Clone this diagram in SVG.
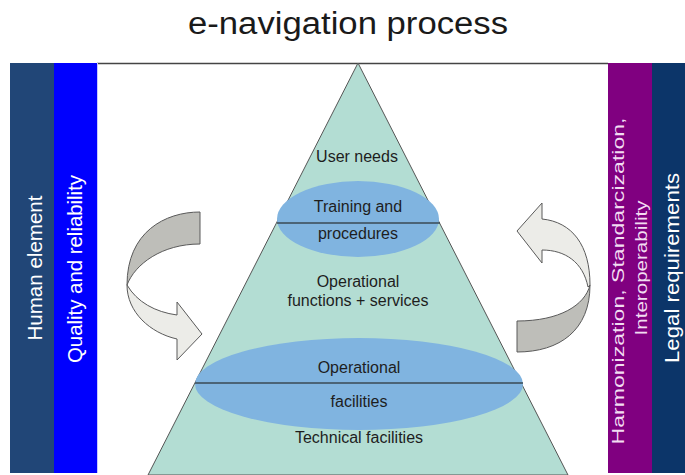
<svg xmlns="http://www.w3.org/2000/svg" width="685" height="475" viewBox="0 0 685 475">
  <style>
    .lbl { font-family: "Liberation Sans", Arial, sans-serif; font-size: 16px; fill: #1e1e1e; text-anchor: middle; }
    .vt { font-family: "Liberation Sans", Arial, sans-serif; font-size: 20px; fill: #ffffff; text-anchor: middle; }
    .vt2 { font-family: "Liberation Sans", Arial, sans-serif; font-size: 17px; fill: #f2dcf2; text-anchor: middle; }
    .ell { fill: #80b4e0; }
    .sep { stroke: #3a4a55; stroke-width: 1.5; }
    .dark { fill: #bebeb9; stroke: #5a5a5a; stroke-width: 1; }
    .light { fill: #ececE8; stroke: #5a5a5a; stroke-width: 1; }
  </style>
  <rect x="0" y="0" width="685" height="475" fill="#ffffff"/>

  <g id="title">
    <text x="348" y="34" font-family="'Liberation Sans', Arial, sans-serif" font-size="31" fill="#1a1a1a" text-anchor="middle" textLength="320" lengthAdjust="spacingAndGlyphs">e-navigation process</text>
  </g>

  <g id="frame">
    <line x1="97" y1="63.5" x2="608" y2="63.5" stroke="#444" stroke-width="1.5"/>
  </g>

  <g id="human-element">
    <rect x="10" y="63" width="44" height="410" fill="#214677"/>
    <text class="vt" transform="translate(42,268) rotate(-90)" textLength="145" lengthAdjust="spacingAndGlyphs">Human element</text>
  </g>
  <g id="quality-reliability">
    <rect x="54" y="63" width="43" height="410" fill="#0000fe"/>
    <line x1="97.5" y1="63" x2="97.5" y2="473" stroke="#c8c8ff" stroke-width="1"/>
    <text class="vt" transform="translate(82,269) rotate(-90)" textLength="188" lengthAdjust="spacingAndGlyphs">Quality and reliability</text>
  </g>
  <g id="harmonization">
    <rect x="608" y="63" width="44" height="410" fill="#800080"/>
    <text class="vt2" transform="translate(624,281) rotate(-90)" textLength="327" lengthAdjust="spacingAndGlyphs">Harmonization, Standarcization,</text>
    <text class="vt2" transform="translate(647,268) rotate(-90)" textLength="135" lengthAdjust="spacingAndGlyphs">Interoperability</text>
  </g>
  <g id="legal-requirements">
    <rect x="652" y="63" width="33" height="410" fill="#0c3569"/>
    <text class="vt" transform="translate(679,268) rotate(-90)" textLength="190" lengthAdjust="spacingAndGlyphs">Legal requirements</text>
  </g>

  <g id="pyramid">
    <polygon points="358,63 148,475 568,475" fill="#b3ddd3" stroke="#555" stroke-width="1"/>
  </g>

  <g id="user-needs">
    <text class="lbl" x="357" y="162">User needs</text>
  </g>

  <g id="training-procedures">
    <ellipse class="ell" cx="358" cy="219" rx="81" ry="38"/>
    <line class="sep" x1="277" y1="223" x2="440" y2="223"/>
    <text class="lbl" x="358" y="212">Training and</text>
    <text class="lbl" x="358" y="239">procedures</text>
  </g>

  <g id="operational-functions">
    <text class="lbl" x="358" y="287">Operational</text>
    <text class="lbl" x="358" y="306">functions + services</text>
  </g>

  <g id="operational-facilities">
    <ellipse class="ell" cx="359" cy="384" rx="164" ry="46"/>
    <line class="sep" x1="195" y1="383" x2="523" y2="383"/>
    <text class="lbl" x="359" y="373">Operational</text>
    <text class="lbl" x="359" y="407">facilities</text>
  </g>

  <g id="technical-facilities">
    <text class="lbl" x="359" y="443">Technical facilities</text>
  </g>

  <g id="connectors">
    <g id="arrow-left">
      <path class="dark" d="M200,212 C165,212 127,232 127,285 C135,264 162,244 200,244 Z"/>
      <path class="light" d="M127,285 C127,312 150,333 177,339 L177,360 L202,334 L177,302 L177,315 C155,312 137,302 127,285 Z"/>
    </g>
    <g id="arrow-right">
      <path class="dark" d="M517,321 L517,352 C560,352 590,330 590,285 C585,305 560,321 517,321 Z"/>
      <path class="light" d="M590,285 C590,245 572,222 542,219 L542,203 L517,231 L542,263 L542,250 C565,250 583,262 588,287 Z"/>
    </g>
  </g>
</svg>
